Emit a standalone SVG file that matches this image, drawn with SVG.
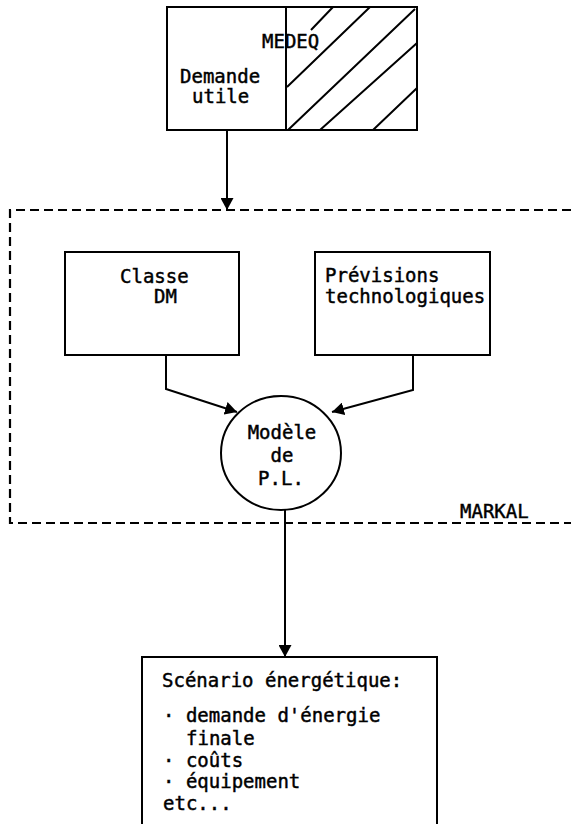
<svg xmlns="http://www.w3.org/2000/svg" width="571" height="824" viewBox="0 0 571 824">
<style>
.box{fill:none;stroke:#000;stroke-width:2}
.hatch{fill:none;stroke:#000;stroke-width:2}
.dash{fill:none;stroke:#000;stroke-width:2.2;stroke-dasharray:9 5}
.conn{fill:none;stroke:#000;stroke-width:2}
.t{font-family:"DejaVu Sans Mono",monospace;font-size:19px;fill:#000;stroke:#000;stroke-width:0.45}
.c{text-anchor:middle}
</style>
<defs>
<marker id="arr" markerUnits="userSpaceOnUse" markerWidth="12" markerHeight="13" refX="12" refY="6.5" orient="auto">
<path d="M0,0 L12,6.5 L0,13 z" fill="#000"/>
</marker>
</defs>
<rect width="571" height="824" fill="#fff"/>
<g id="markal">
<path class="dash" d="M571,210 H10 V523 H571"/>
<text class="t" x="460" y="518">MARKAL</text>
</g>
<g id="medeq">
<rect class="box" x="167" y="7" width="250" height="123"/>
<line class="box" x1="286" y1="7" x2="286" y2="130"/>
<path class="hatch" d="M333,7 L311,30 M370,7 L287,87 M415,9 L288,130 M417,43 L320,130 M417,88 L373,130"/>
<text class="t" x="262" y="48">MEDEQ</text>
<text class="t" x="180" y="83">Demande</text>
<text class="t" x="192" y="103">utile</text>
</g>
<g id="classe">
<rect class="box" x="65" y="252" width="174" height="103"/>
<text class="t" x="120" y="283">Classe</text>
<text class="t" x="154" y="303">DM</text>
</g>
<g id="previsions">
<rect class="box" x="315" y="252" width="175" height="103"/>
<text class="t" x="325" y="282">Prévisions</text>
<text class="t" x="325" y="303">technologiques</text>
</g>
<g id="modele">
<ellipse class="box" cx="281" cy="453" rx="60" ry="57"/>
<text class="t c" x="282" y="439">Modèle</text>
<text class="t c" x="282" y="462">de</text>
<text class="t c" x="281" y="485">P.L.</text>
</g>
<g id="scenario">
<path class="box" d="M142,824 V657 H437 V824"/>
<text class="t" x="162" y="687">Scénario énergétique:</text>
<text class="t" x="163" y="722">· demande d'énergie</text>
<text class="t" x="186" y="745">finale</text>
<text class="t" x="163" y="767">· coûts</text>
<text class="t" x="163" y="788">· équipement</text>
<text class="t" x="163" y="810">etc...</text>
</g>
<g id="connectors">
<path class="conn" d="M227,130 V210" marker-end="url(#arr)"/>
<path class="conn" d="M166,355 V389 L237,412" marker-end="url(#arr)"/>
<path class="conn" d="M413,355 V390 L332,412" marker-end="url(#arr)"/>
<path class="conn" d="M285,510 V657" marker-end="url(#arr)"/>
</g>
</svg>
